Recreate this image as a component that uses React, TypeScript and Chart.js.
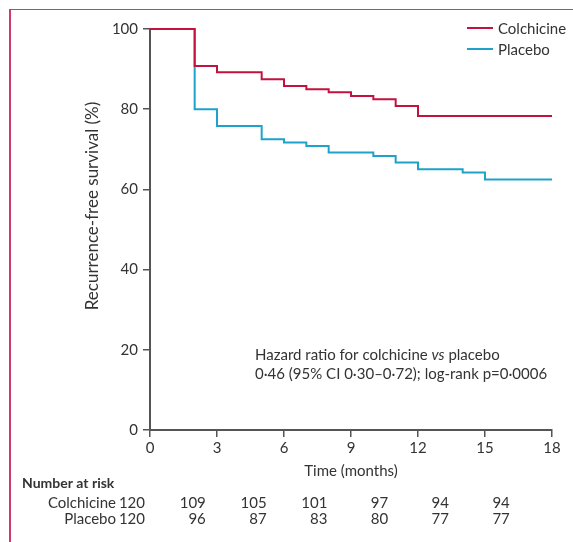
import React, { useEffect, useRef } from "react";
import { Chart, registerables } from "chart.js";

Chart.register(...registerables);

// ---- data ----
const seriesLabels = ["Colchicine", "Placebo"];
const colchicineTimes = [0, 2, 3, 5, 6, 7, 8, 9, 10, 11, 12, 18];
const colchicineSurvival = [100, 90.8, 89.2, 87.5, 85.8, 85.0, 84.2, 83.3, 82.5, 80.8, 78.3, 78.3];
const placeboTimes = [0, 2, 3, 5, 6, 7, 8, 10, 11, 12, 14, 15, 18];
const placeboSurvival = [100, 80.0, 75.8, 72.5, 71.7, 70.8, 69.2, 68.3, 66.7, 65.0, 64.2, 62.5, 62.5];
const xTickValues = [0, 3, 6, 9, 12, 15, 18];
const yTickValues = [0, 20, 40, 60, 80, 100];
const colchicineAtRisk = [120, 109, 105, 101, 97, 94, 94];
const placeboAtRisk = [120, 96, 87, 83, 80, 77, 77];
const yTitle = "Recurrence-free survival (%)";
const xTitle = "Time (months)";
const riskTitle = "Number at risk";
const hrLine1 = ["Hazard ratio for colchicine ", "vs", " placebo"];
const hrLine2 = "0\u00b746 (95% CI 0\u00b730\u20130\u00b772); log-rank p=0\u00b70006";

const COL_RED = "#c4123f";
const COL_BLUE = "#1ea2c9";
const TEXT = "#333333";
const AXIS = "#555555";
const FONT = "Lato";

const extras = {
  id: "extras",
  afterDraw(chart: any) {
    const ctx = chart.ctx;
    ctx.save();
    ctx.fillStyle = TEXT;

    // y axis title
    ctx.save();
    ctx.translate(93, 206);
    ctx.rotate(-Math.PI / 2);
    ctx.font = `17px ${FONT}`;
    ctx.textAlign = "center";
    ctx.textBaseline = "middle";
    ctx.fillText(yTitle, 0, 0);
    ctx.restore();

    // legend
    const ds = chart.data.datasets;
    const legY = [28, 49];
    ds.forEach((d: any, i: number) => {
      ctx.strokeStyle = d.borderColor;
      ctx.lineWidth = 2;
      ctx.beginPath();
      ctx.moveTo(467, legY[i]);
      ctx.lineTo(493, legY[i]);
      ctx.stroke();
      ctx.font = `15px ${FONT}`;
      ctx.textAlign = "left";
      ctx.textBaseline = "middle";
      ctx.fillStyle = TEXT;
      ctx.fillText(d.label, 498, legY[i] + 1);
    });

    // hazard ratio annotation
    ctx.textAlign = "left";
    ctx.textBaseline = "alphabetic";
    let x = 255;
    hrLine1.forEach((seg, i) => {
      ctx.font = i === 1 ? `italic 15px ${FONT}` : `15px ${FONT}`;
      ctx.fillText(seg, x, 360);
      x += ctx.measureText(seg).width;
    });
    ctx.font = `15px ${FONT}`;
    ctx.fillText(hrLine2, 255, 379);

    // number at risk table
    ctx.font = `bold 14px ${FONT}`;
    ctx.textAlign = "left";
    ctx.fillText(riskTitle, 22, 488);
    ctx.font = `15px ${FONT}`;
    const rows = [colchicineAtRisk, placeboAtRisk];
    const rowY = [508, 524];
    rows.forEach((row, r) => {
      ctx.textAlign = "right";
      ctx.fillText(seriesLabels[r], 116, rowY[r]);
      row.forEach((n, i) => {
        ctx.fillText(String(n), 145 + i * 60.8, rowY[r]);
      });
    });
    ctx.restore();
  },
};

export default function App() {
  const ref = useRef<HTMLCanvasElement | null>(null);
  useEffect(() => {
    if (!ref.current) return;
    Chart.defaults.font.family = FONT;
    const chart = new Chart(ref.current, {
      type: "line",
      data: {
        datasets: [
          {
            label: seriesLabels[0],
            data: colchicineTimes.map((t, i) => ({ x: t, y: colchicineSurvival[i] })),
            borderColor: COL_RED,
            borderWidth: 2,
            pointRadius: 0,
            stepped: "before",
            fill: false,
            clip: 6,
          },
          {
            label: seriesLabels[1],
            data: placeboTimes.map((t, i) => ({ x: t, y: placeboSurvival[i] })),
            borderColor: COL_BLUE,
            borderWidth: 2,
            pointRadius: 0,
            stepped: "before",
            fill: false,
            clip: 6,
          },
        ],
      },
      options: {
        responsive: false,
        animation: false,
        devicePixelRatio: 1,
        layout: { padding: { left: 0, top: 29, right: 21, bottom: 62 } },
        plugins: { legend: { display: false }, tooltip: { enabled: false } },
        scales: {
          x: {
            type: "linear",
            min: 0,
            max: 18,
            afterFit: (s: any) => {
              s.height = 50;
            },
            afterBuildTicks: (s: any) => {
              s.ticks = xTickValues.map((v) => ({ value: v }));
            },
            ticks: { color: TEXT, font: { size: 15 }, padding: 2, autoSkip: false, maxRotation: 0 },
            grid: { drawOnChartArea: false, drawTicks: true, tickLength: 7, color: AXIS, lineWidth: 1.5 },
            border: { display: true, color: AXIS, width: 2 },
            title: { display: true, text: xTitle, color: TEXT, font: { size: 15 }, padding: 0 },
          },
          y: {
            type: "linear",
            min: 0,
            max: 100,
            afterFit: (s: any) => {
              s.width = 150;
            },
            afterBuildTicks: (s: any) => {
              s.ticks = yTickValues.map((v) => ({ value: v }));
            },
            ticks: { color: TEXT, font: { size: 15 }, padding: 5 },
            grid: { drawOnChartArea: false, drawTicks: true, tickLength: 7, color: AXIS, lineWidth: 1.5 },
            border: { display: true, color: AXIS, width: 2 },
          },
        },
      },
      plugins: [extras],
    });
    return () => chart.destroy();
  }, []);

  return (
    <div style={{ position: "absolute", left: 0, top: 0, width: 573, height: 542, background: "#fff", overflow: "hidden" }}>
      <div
        style={{
          position: "absolute",
          left: 9,
          top: 9,
          width: 600,
          height: 600,
          borderLeft: "2px solid #d23a6a",
          borderTop: "1.5px solid #d23a6a",
        }}
      />
      <canvas ref={ref} width={573} height={542} style={{ position: "absolute", left: 0, top: 0, width: 573, height: 542 }} />
    </div>
  );
}
